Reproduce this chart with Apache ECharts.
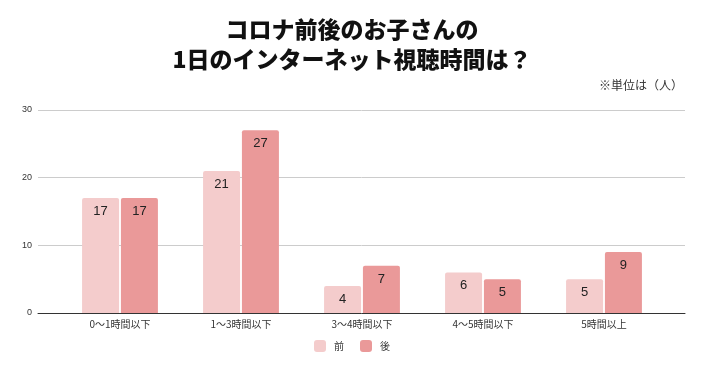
<!DOCTYPE html>
<html><head><meta charset="utf-8">
<script src="https://cdn.jsdelivr.net/npm/echarts@6/dist/echarts.min.js"></script>
<style>html,body{margin:0;padding:0;background:#fff}#c{width:704px;height:371px}</style>
</head><body><div id="c"></div>
<script>
const categories = ['0〜1時間以下','1〜3時間以下','3〜4時間以下','4〜5時間以下','5時間以上'];
const seriesNames = ['前','後'];
const before = [17, 21, 4, 6, 5];
const after = [17, 27, 7, 5, 9];
const yTicks = [0, 10, 20, 30];

const font = '"Noto Sans CJK JP", "Noto Sans", sans-serif';
const numFont = '"Liberation Sans", Arial, sans-serif';
const chart = echarts.init(document.getElementById('c'));
chart.setOption({
  animation: false,
  title: {
    text: 'コロナ前後のお子さんの\n1日のインターネット視聴時間は？',
    left: 'center', top: 9,
    textStyle: { fontFamily: font, fontSize: 23, fontWeight: 900, color: '#111', lineHeight: 30 }
  },
  graphic: [{
    type: 'text', right: 21, top: 79,
    style: { text: '※単位は（人）', fontFamily: font, fontSize: 12, fill: '#333' }
  }],
  legend: {
    bottom: 14, left: 'center', itemWidth: 12, itemHeight: 12, itemGap: 16,
    icon: 'roundRect',
    textStyle: { fontFamily: font, fontSize: 10, color: '#333', padding: [0, 0, 0, 3] },
    data: seriesNames
  },
  grid: [
    { left: 38, right: 19, top: 110, bottom: 58 },
    { left: 59.5, right: 39.5, top: 110, bottom: 58 }
  ],
  xAxis: [
    { type: 'category', gridIndex: 0, data: [''], axisLine: { lineStyle: { color: '#333', width: 1 } },
      axisTick: { show: false }, axisLabel: { show: false } },
    { type: 'category', gridIndex: 1, data: categories, axisLine: { show: false },
      axisTick: { show: false },
      axisLabel: { fontFamily: font, fontSize: 10, color: '#333', margin: 6 } }
  ],
  yAxis: [
    { type: 'value', gridIndex: 0, min: 0, max: 30, interval: 10,
      axisLabel: { fontFamily: numFont, fontSize: 9, color: '#333', margin: 6 },
      splitLine: { lineStyle: { color: '#ccc' } }, axisLine: { show: false }, axisTick: { show: false } },
    { type: 'value', gridIndex: 1, min: 0, max: 30, interval: 10, show: false, splitLine: { show: false } }
  ],
  series: [
    { name: seriesNames[0], type: 'bar', xAxisIndex: 1, yAxisIndex: 1, data: before,
      barWidth: 37, barGap: '5%',
      itemStyle: { color: '#f4cccc', borderRadius: [2, 2, 0, 0] },
      label: { show: true, position: 'insideTop', distance: 7, fontFamily: numFont, fontSize: 13, color: '#222' } },
    { name: seriesNames[1], type: 'bar', xAxisIndex: 1, yAxisIndex: 1, data: after,
      barWidth: 37, barGap: '5%',
      itemStyle: { color: '#ea9999', borderRadius: [2, 2, 0, 0] },
      label: { show: true, position: 'insideTop', distance: 7, fontFamily: numFont, fontSize: 13, color: '#222' } }
  ]
});
</script></body></html>
